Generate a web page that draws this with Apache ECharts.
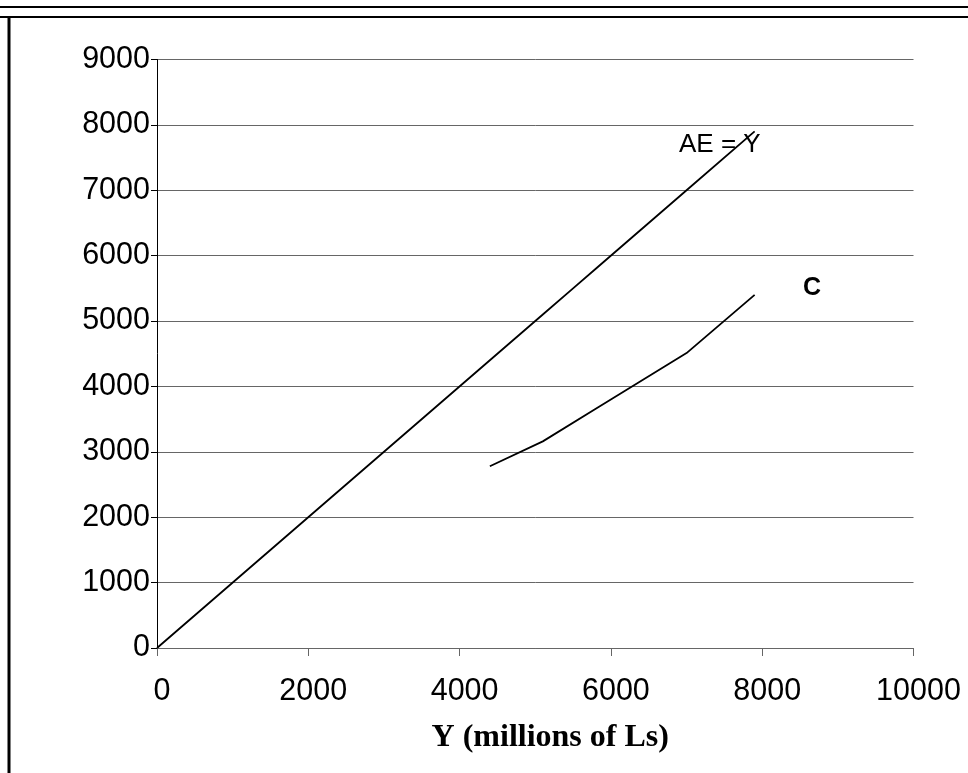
<!DOCTYPE html>
<html><head><meta charset="utf-8">
<script src="https://cdn.jsdelivr.net/npm/echarts@6/dist/echarts.min.js"></script>
<style>html,body{margin:0;padding:0;background:#fff}#c{width:968px;height:773px}</style>
</head><body><div id="c"></div>
<script>
var aeY_x = [0, 4400, 5100, 5500, 5800, 7000, 7900];
var aeY_y = [0, 4400, 5100, 5500, 5800, 7000, 7900];
var c_x = [4400, 5100, 5800, 7000, 7900];
var c_y = [2780, 3160, 3660, 4510, 5400];
var xTicks = [0, 2000, 4000, 6000, 8000, 10000];
var yTicks = [0, 1000, 2000, 3000, 4000, 5000, 6000, 7000, 8000, 9000];

function pairs(xs, ys){ return xs.map(function(x,i){return [x, ys[i]];}); }
function plain(v){ return String(v); }

var chart = echarts.init(document.getElementById('c'));
chart.setOption({
  animation:false,
  backgroundColor:'#fff',
  grid:{left:157, right:968-913.5, top:59.5, bottom:773-648},
  xAxis:{type:'value', min:xTicks[0], max:xTicks[xTicks.length-1], interval:2000,
    name:'Y (millions of Ls)', nameLocation:'middle', nameGap:74, nameMoveOverlap:false,
    nameTextStyle:{fontFamily:'Liberation Serif', fontWeight:'bold', fontSize:32, color:'#000', padding:[0,0,0,30]},
    axisLine:{lineStyle:{color:'#666', width:1}},
    axisTick:{show:true, length:8, inside:false, lineStyle:{color:'#666'}},
    axisLabel:{margin:28, fontFamily:'Liberation Sans', fontSize:30.5, color:'#000', formatter:plain, padding:[0,0,0,10]},
    splitLine:{show:false}},
  yAxis:{type:'value', min:yTicks[0], max:yTicks[yTicks.length-1], interval:1000,
    axisLine:{show:true, lineStyle:{color:'#000', width:1}},
    axisTick:{show:true, length:6, lineStyle:{color:'#000'}},
    axisLabel:{margin:7, fontFamily:'Liberation Sans', fontSize:30.5, color:'#000', formatter:plain},
    splitLine:{show:true, lineStyle:{color:'#666', width:1}}},
  series:[
    {type:'line', data:pairs(aeY_x, aeY_y), symbol:'none', lineStyle:{color:'#000', width:1.8},
     markPoint:{symbol:'rect', symbolSize:0, data:[{coord:[7440,7700], value:'AE = Y'}],
       label:{show:true, formatter:'AE = Y', fontFamily:'Liberation Sans', fontSize:26, color:'#000'}}},
    {type:'line', data:pairs(c_x, c_y), symbol:'none', lineStyle:{color:'#000', width:1.8},
     markPoint:{symbol:'rect', symbolSize:0, data:[{coord:[8660,5500], value:'C'}],
       label:{show:true, formatter:'C', fontFamily:'Liberation Sans', fontWeight:'bold', fontSize:25, color:'#000'}}}
  ],
  graphic:[
    {type:'line', shape:{x1:0,y1:7,x2:968,y2:7}, style:{stroke:'#000', lineWidth:2}},
    {type:'line', shape:{x1:0,y1:17,x2:968,y2:17}, style:{stroke:'#000', lineWidth:2}},
    {type:'line', shape:{x1:9,y1:16,x2:9,y2:773}, style:{stroke:'#000', lineWidth:3}}
  ]
});
</script></body></html>
